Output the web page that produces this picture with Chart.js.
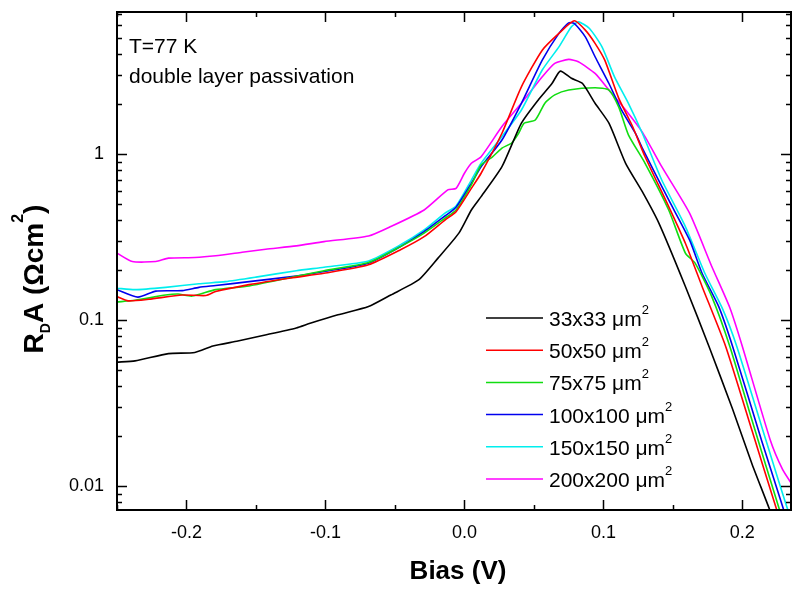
<!DOCTYPE html>
<html>
<head>
<meta charset="utf-8">
<script src="https://cdn.jsdelivr.net/npm/chart.js@4"></script>
<style>
  body { margin: 0; background: #fff; }
  canvas { display: block; }
</style>
</head>
<body>
<canvas id="rdaChart" width="792" height="592"></canvas>
<script>
const FONT = '"Liberation Sans", Arial, Helvetica, sans-serif';

// device sizes and colours (legend order)
const sizeLabels = ['33x33 μm²', '50x50 μm²', '75x75 μm²', '100x100 μm²', '150x150 μm²', '200x200 μm²'];
const lineColors = ['#000000', '#ff0000', '#11dd11', '#0000ee', '#00eeee', '#ff00ff'];

// bias (V) and R_D*A (Ohm cm^2)
const bias33 = [-0.25, -0.237, -0.213, -0.194, -0.181, -0.163, -0.145, -0.121, -0.111, -0.091, -0.069, -0.053, -0.033, -0.019, -0.004, 0.005, 0.012, 0.027, 0.041, 0.053, 0.063, 0.069, 0.077, 0.085, 0.094, 0.104, 0.116, 0.128, 0.140, 0.159, 0.176, 0.193, 0.207, 0.220, 0.229];
const ra33 = [0.056, 0.057, 0.063, 0.064, 0.070, 0.075, 0.081, 0.090, 0.096, 0.108, 0.121, 0.142, 0.175, 0.237, 0.335, 0.462, 0.556, 0.842, 1.54, 2.12, 2.67, 3.17, 2.87, 2.67, 2.03, 1.54, 0.883, 0.596, 0.384, 0.160, 0.0696, 0.0291, 0.0136, 0.0071, 0.0043];

const bias50 = [-0.25, -0.242, -0.227, -0.203, -0.186, -0.179, -0.155, -0.125, -0.101, -0.069, -0.046, -0.029, -0.014, -0.006, 0.005, 0.012, 0.027, 0.041, 0.056, 0.068, 0.079, 0.087, 0.094, 0.101, 0.111, 0.121, 0.130, 0.147, 0.159, 0.171, 0.188, 0.207, 0.225, 0.236];
const ra50 = [0.139, 0.131, 0.134, 0.142, 0.141, 0.149, 0.164, 0.180, 0.192, 0.216, 0.266, 0.319, 0.402, 0.451, 0.624, 0.769, 1.34, 2.55, 4.24, 5.35, 6.37, 5.60, 4.66, 3.69, 2.18, 1.47, 0.967, 0.484, 0.291, 0.160, 0.0696, 0.0216, 0.0071, 0.0037];

const bias75 = [-0.25, -0.237, -0.215, -0.206, -0.196, -0.179, -0.155, -0.121, -0.101, -0.069, -0.046, -0.029, -0.014, -0.006, 0.005, 0.012, 0.020, 0.027, 0.034, 0.039, 0.043, 0.051, 0.058, 0.065, 0.075, 0.094, 0.104, 0.111, 0.118, 0.130, 0.147, 0.159, 0.166, 0.178, 0.191, 0.207, 0.227, 0.236];
const ra75 = [0.129, 0.132, 0.142, 0.144, 0.140, 0.153, 0.161, 0.184, 0.199, 0.223, 0.278, 0.335, 0.412, 0.462, 0.654, 0.862, 0.963, 1.09, 1.17, 1.34, 1.54, 1.61, 2.04, 2.28, 2.44, 2.52, 2.44, 1.93, 1.31, 0.883, 0.462, 0.254, 0.221, 0.139, 0.0696, 0.0249, 0.0071, 0.0042];

const bias100 = [-0.25, -0.235, -0.222, -0.203, -0.191, -0.179, -0.155, -0.121, -0.101, -0.069, -0.046, -0.029, -0.014, -0.006, 0.005, 0.012, 0.027, 0.041, 0.056, 0.068, 0.075, 0.079, 0.087, 0.094, 0.104, 0.113, 0.123, 0.128, 0.147, 0.162, 0.171, 0.183, 0.193, 0.214, 0.230, 0.236];
const ra100 = [0.153, 0.138, 0.150, 0.151, 0.158, 0.162, 0.171, 0.185, 0.197, 0.221, 0.278, 0.342, 0.425, 0.480, 0.669, 0.842, 1.22, 2.03, 3.69, 5.35, 6.19, 6.14, 5.10, 3.87, 2.67, 1.85, 1.34, 1.09, 0.531, 0.305, 0.192, 0.121, 0.0696, 0.0187, 0.0071, 0.0049];

const bias150 = [-0.25, -0.237, -0.215, -0.191, -0.172, -0.150, -0.121, -0.101, -0.069, -0.046, -0.029, -0.014, -0.006, 0.005, 0.012, 0.027, 0.041, 0.056, 0.068, 0.077, 0.082, 0.090, 0.099, 0.108, 0.118, 0.128, 0.142, 0.159, 0.173, 0.186, 0.196, 0.214, 0.233, 0.236];
const ra150 = [0.156, 0.153, 0.158, 0.166, 0.171, 0.182, 0.199, 0.209, 0.228, 0.285, 0.350, 0.442, 0.489, 0.700, 0.883, 1.28, 1.85, 3.22, 4.44, 5.86, 6.28, 5.73, 4.44, 2.93, 2.03, 1.34, 0.700, 0.367, 0.192, 0.116, 0.0696, 0.0228, 0.0071, 0.0065];

const bias200 = [-0.25, -0.239, -0.222, -0.213, -0.194, -0.179, -0.160, -0.143, -0.121, -0.101, -0.069, -0.053, -0.029, -0.012, -0.006, 0.0, 0.005, 0.012, 0.027, 0.041, 0.056, 0.065, 0.075, 0.082, 0.094, 0.104, 0.116, 0.128, 0.142, 0.162, 0.178, 0.191, 0.200, 0.220, 0.229, 0.236];
const ra200 = [0.254, 0.226, 0.226, 0.237, 0.239, 0.245, 0.257, 0.268, 0.281, 0.298, 0.322, 0.367, 0.462, 0.610, 0.624, 0.769, 0.883, 0.967, 1.47, 2.03, 2.93, 3.53, 3.73, 3.61, 3.07, 2.44, 1.85, 1.36, 0.842, 0.442, 0.211, 0.119, 0.0696, 0.0191, 0.0126, 0.0102];

// axes
const xMajorTicks = [-0.2, -0.1, 0.0, 0.1, 0.2];
const xMinorTicks = [-0.25, -0.15, -0.05, 0.05, 0.15];
const yMajorTicks = [0.01, 0.1, 1];
const xTitle = 'Bias (V)';
const notes = ['T=77 K', 'double layer passivation'];

const allBias = [bias33, bias50, bias75, bias100, bias150, bias200];
const allRa = [ra33, ra50, ra75, ra100, ra150, ra200];

function toPoints(xs, ys) {
    return xs.map((x, i) => ({ x: x, y: ys[i] }));
}

// draws text pieces one after another (for sub/superscripts)
function drawRich(ctx, parts, x, y) {
    parts.forEach(p => {
        ctx.font = (p.w || 'normal') + ' ' + p.s + 'px ' + FONT;
        ctx.fillText(p.t, x, y + (p.dy || 0));
        x += ctx.measureText(p.t).width;
    });
}
function richWidth(ctx, parts) {
    let w = 0;
    parts.forEach(p => {
        ctx.font = (p.w || 'normal') + ' ' + p.s + 'px ' + FONT;
        w += ctx.measureText(p.t).width;
    });
    return w;
}

const decorPlugin = {
    id: 'decor',
    afterDraw(chart) {
        const ctx = chart.ctx;
        const a = chart.chartArea;
        const xs = chart.scales.x, ys = chart.scales.y;
        ctx.save();
        ctx.strokeStyle = '#000';
        ctx.fillStyle = '#000';

        // frame
        ctx.lineWidth = 2;
        ctx.strokeRect(a.left, a.top, a.right - a.left, a.bottom - a.top);

        // inward ticks
        ctx.lineWidth = 1.5;
        ctx.beginPath();
        const xTick = (v, len) => {
            const px = Math.round(xs.getPixelForValue(v)) + 0.5;
            ctx.moveTo(px, a.bottom); ctx.lineTo(px, a.bottom - len);
            ctx.moveTo(px, a.top); ctx.lineTo(px, a.top + len);
        };
        xMajorTicks.forEach(v => xTick(v, 10));
        xMinorTicks.forEach(v => xTick(v, 5));
        const yTick = (v, len) => {
            if (v < ys.min || v > ys.max) return;
            const py = Math.round(ys.getPixelForValue(v)) + 0.5;
            ctx.moveTo(a.left, py); ctx.lineTo(a.left + len, py);
            ctx.moveTo(a.right, py); ctx.lineTo(a.right - len, py);
        };
        [0.001, 0.01, 0.1, 1].forEach(dec => {
            for (let k = 1; k <= 9; k++) {
                yTick(dec * k, k === 1 ? 10 : 5);
            }
        });
        ctx.stroke();

        // notes
        ctx.textAlign = 'left';
        ctx.textBaseline = 'alphabetic';
        ctx.font = '21px ' + FONT;
        ctx.fillText(notes[0], 129, 53);
        ctx.fillText(notes[1], 129, 83);

        // legend
        const lx0 = 486, lx1 = 543, ly0 = 318, lstep = 32.2;
        chart.data.datasets.forEach((ds, i) => {
            const y = ly0 + i * lstep;
            ctx.strokeStyle = ds.borderColor;
            ctx.lineWidth = 1.5;
            ctx.beginPath();
            ctx.moveTo(lx0, y); ctx.lineTo(lx1, y);
            ctx.stroke();
            const txt = ds.label.replace('²', '');
            drawRich(ctx, [
                { t: txt, s: 21 },
                { t: '2', s: 13, dy: -12 }
            ], 549, y + 8);
        });

        // x title
        ctx.textAlign = 'center';
        ctx.font = 'bold 26px ' + FONT;
        ctx.fillText(xTitle, 458, 579);

        // y title: R_D A (Ωcm^2)
        ctx.textAlign = 'left';
        const parts = [
            { t: 'R', s: 28, w: 'bold' },
            { t: 'D', s: 14, w: 'bold', dy: 7 },
            { t: 'A (Ωcm', s: 28, w: 'bold' },
            { t: '2', s: 16, w: 'bold', dy: -20 },
            { t: ')', s: 28, w: 'bold' }
        ];
        ctx.translate(33, 279);
        ctx.rotate(-Math.PI / 2);
        drawRich(ctx, parts, -richWidth(ctx, parts) / 2, 10);
        ctx.restore();
    }
};

const datasets = allBias.map((b, i) => ({
    label: sizeLabels[i],
    data: toPoints(b, allRa[i]),
    borderColor: lineColors[i],
    backgroundColor: lineColors[i],
    borderWidth: 1.6,
    pointRadius: 0,
    tension: 0.2,
    fill: false
}));

const tickFont = { family: FONT, size: 18 };

new Chart(document.getElementById('rdaChart').getContext('2d'), {
    type: 'line',
    data: { datasets: datasets },
    options: {
        responsive: false,
        animation: false,
        layout: { padding: { top: 12, right: 1, left: 0, bottom: 0 } },
        plugins: {
            legend: { display: false },
            tooltip: { enabled: false },
            title: { display: false }
        },
        scales: {
            x: {
                type: 'linear',
                min: -0.25,
                max: 0.235,
                grid: { display: false, drawTicks: false },
                border: { display: false },
                ticks: {
                    font: tickFont,
                    color: '#000',
                    padding: 12,
                    maxRotation: 0,
                    autoSkip: false,
                    callback: v => v.toFixed(1)
                },
                afterBuildTicks: s => { s.ticks = xMajorTicks.map(v => ({ value: v })); },
                afterFit: s => {
                    s.height = 82;
                    s.paddingLeft = 0; s.paddingRight = 0;
                    s.paddingTop = 0; s.paddingBottom = 0;
                }
            },
            y: {
                type: 'logarithmic',
                min: 0.0072,
                max: 7.2,
                grid: { display: false, drawTicks: false },
                border: { display: false },
                ticks: {
                    font: tickFont,
                    color: '#000',
                    padding: 13,
                    autoSkip: false,
                    callback: v => String(v)
                },
                afterBuildTicks: s => { s.ticks = yMajorTicks.map(v => ({ value: v })); },
                afterFit: s => {
                    s.width = 117;
                    s.paddingTop = 0; s.paddingBottom = 0;
                    s.paddingLeft = 0; s.paddingRight = 0;
                }
            }
        }
    },
    plugins: [decorPlugin]
});
</script>
</body>
</html>
